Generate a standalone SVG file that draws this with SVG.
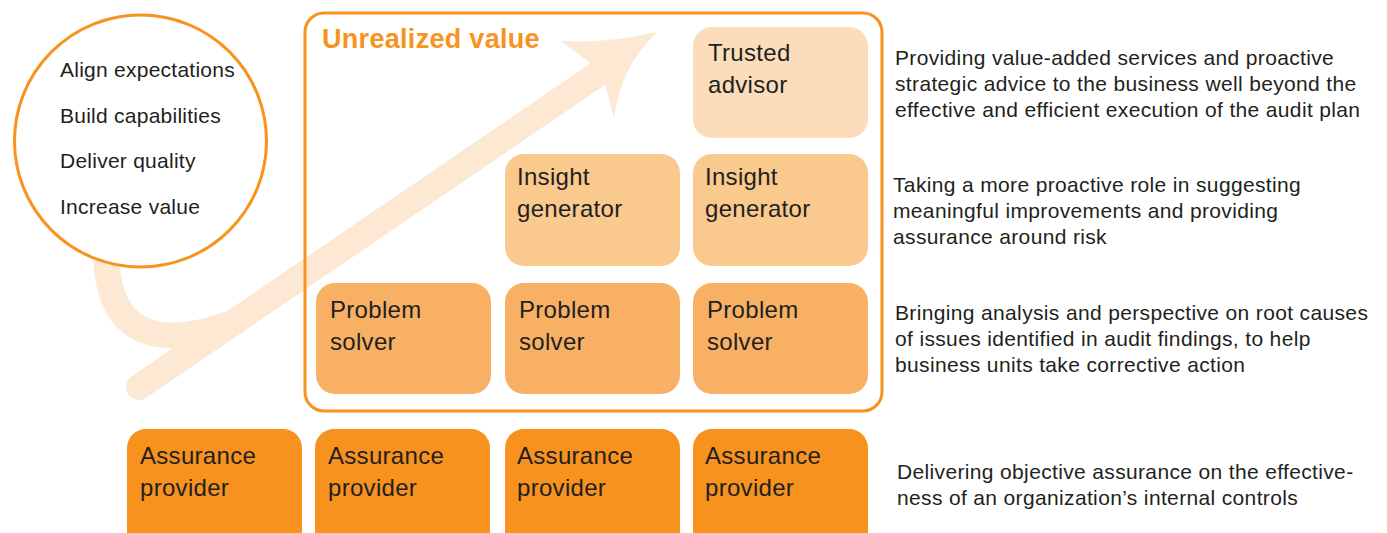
<svg xmlns="http://www.w3.org/2000/svg" width="1387" height="533" viewBox="0 0 1387 533">
<style>
.t{font-family:"Liberation Sans",Arial,sans-serif;fill:#231F20}
.n{font-size:24px;letter-spacing:0.3px}
.d{font-size:21px;letter-spacing:0.35px}
.c{font-size:21px;letter-spacing:0.25px}
.b1{fill:#FBDDBB}
.b2{fill:#FAC98E}
.b3{fill:#F8B064}
.b4{fill:#F7921E}
.arw{fill:none;stroke:#FDE8D3;stroke-width:26}
</style>
<rect width="1387" height="533" fill="#ffffff"/>
<g id="connectors">
<path class="arw" d="M106,250 C106,330 150,355 240,320"/>
<line class="arw" x1="139" y1="387" x2="598" y2="74" stroke-linecap="round"/>
<path d="M561,41 Q605,44 657,32 Q620,68 614,118 L605.3,84.7 L590.7,63.3 Z" fill="#FDE8D3"/>
</g>
<g id="circle">
<circle cx="140.5" cy="141" r="126" fill="#ffffff" stroke="#F7931E" stroke-width="3"/>
<text class="t c" x="60" y="77">Align expectations</text>
<text class="t c" x="60" y="123">Build capabilities</text>
<text class="t c" x="60" y="168">Deliver quality</text>
<text class="t c" x="60" y="214">Increase value</text>
</g>
<g id="frame">
<rect x="305" y="13" width="577" height="398" rx="19" fill="none" stroke="#F7931E" stroke-width="3"/>
<text x="322" y="48" font-family="Liberation Sans,Arial,sans-serif" font-weight="bold" font-size="27" letter-spacing="0.3" fill="#F7931E">Unrealized value</text>
</g>
<g id="trusted-advisor">
<rect class="b1" x="693" y="27" width="175" height="111" rx="19"/>
<text class="t n" x="708" y="61">Trusted</text>
<text class="t n" x="708" y="93">advisor</text>
</g>
<g id="insight-1">
<rect class="b2" x="505" y="154" width="175" height="112" rx="19"/>
<text class="t n" x="517" y="185">Insight</text>
<text class="t n" x="517" y="217">generator</text>
</g>
<g id="insight-2">
<rect class="b2" x="693" y="154" width="175" height="112" rx="19"/>
<text class="t n" x="705" y="185">Insight</text>
<text class="t n" x="705" y="217">generator</text>
</g>
<g id="problem-1">
<rect class="b3" x="316" y="283" width="175" height="111" rx="19"/>
<text class="t n" x="330" y="318">Problem</text>
<text class="t n" x="330" y="350">solver</text>
</g>
<g id="problem-2">
<rect class="b3" x="505" y="283" width="175" height="111" rx="19"/>
<text class="t n" x="519" y="318">Problem</text>
<text class="t n" x="519" y="350">solver</text>
</g>
<g id="problem-3">
<rect class="b3" x="693" y="283" width="175" height="111" rx="19"/>
<text class="t n" x="707" y="318">Problem</text>
<text class="t n" x="707" y="350">solver</text>
</g>
<g id="assurance-1">
<rect class="b4" x="127" y="429" width="175" height="125" rx="19"/>
<text class="t n" x="140" y="464">Assurance</text>
<text class="t n" x="140" y="496">provider</text>
</g>
<g id="assurance-2">
<rect class="b4" x="315" y="429" width="175" height="125" rx="19"/>
<text class="t n" x="328" y="464">Assurance</text>
<text class="t n" x="328" y="496">provider</text>
</g>
<g id="assurance-3">
<rect class="b4" x="505" y="429" width="175" height="125" rx="19"/>
<text class="t n" x="517" y="464">Assurance</text>
<text class="t n" x="517" y="496">provider</text>
</g>
<g id="assurance-4">
<rect class="b4" x="693" y="429" width="175" height="125" rx="19"/>
<text class="t n" x="705" y="464">Assurance</text>
<text class="t n" x="705" y="496">provider</text>
</g>
<g id="descriptions">
<text class="t d" x="895" y="65">Providing value-added services and proactive</text>
<text class="t d" x="895" y="91">strategic advice to the business well beyond the</text>
<text class="t d" x="895" y="117">effective and efficient execution of the audit plan</text>
<text class="t d" x="893" y="192">Taking a more proactive role in suggesting</text>
<text class="t d" x="893" y="218">meaningful improvements and providing</text>
<text class="t d" x="893" y="244">assurance around risk</text>
<text class="t d" x="895" y="320">Bringing analysis and perspective on root causes</text>
<text class="t d" x="895" y="346">of issues identified in audit findings, to help</text>
<text class="t d" x="895" y="372">business units take corrective action</text>
<text class="t d" x="897" y="479">Delivering objective assurance on the effective-</text>
<text class="t d" x="897" y="505">ness of an organization’s internal controls</text>
</g>
</svg>
